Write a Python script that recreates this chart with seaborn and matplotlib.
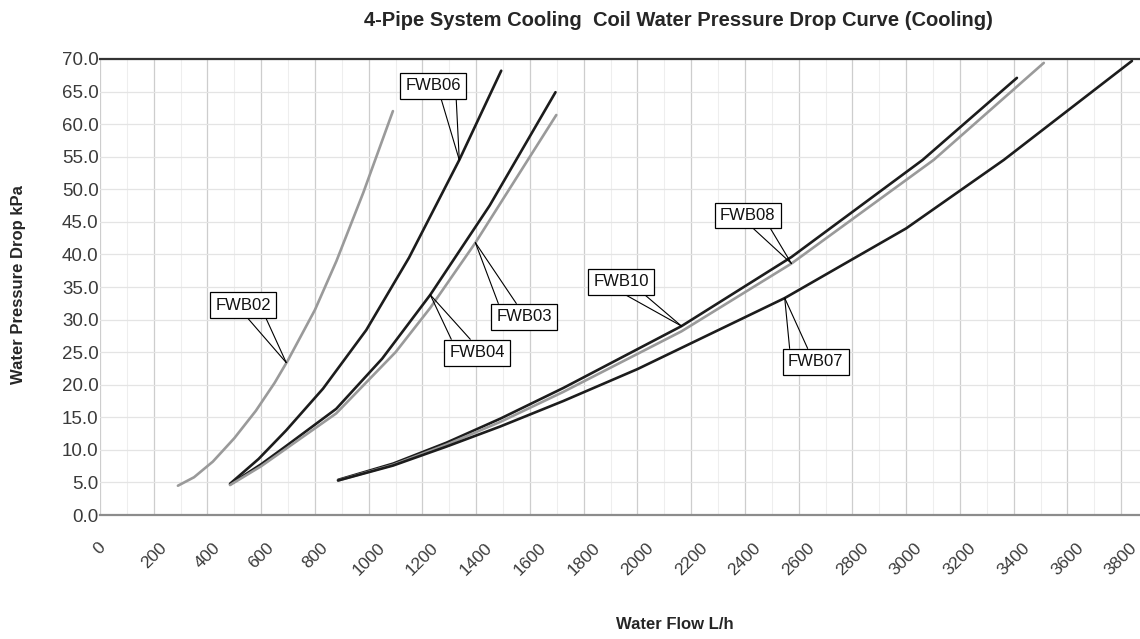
import seaborn as sns
import matplotlib.pyplot as plt
from matplotlib.ticker import MultipleLocator
import pandas as pd

# flow (L/h) and pressure drop (kPa)
fwb02_flow = [290, 350, 420, 500, 580, 650, 700, 800, 880, 980, 1090]
fwb02_drop = [4.5, 5.8, 8.2, 11.8, 16.0, 20.3, 23.8, 31.5, 39.0, 49.5, 62.0]

fwb06_flow = [484, 590, 693, 830, 991, 1150, 1337, 1493]
fwb06_drop = [4.8, 8.6, 13.0, 19.4, 28.4, 39.5, 54.5, 68.2]

fwb04_flow = [484, 600, 693, 879, 1050, 1229, 1450, 1695]
fwb04_drop = [4.7, 7.8, 10.6, 16.3, 24.0, 33.8, 47.5, 64.9]

fwb03_flow = [484, 600, 693, 879, 1100, 1229, 1397, 1698]
fwb03_drop = [4.6, 7.5, 10.2, 15.6, 25.0, 31.8, 41.8, 61.4]

fwb10_flow = [886, 1091, 1289, 1490, 1724, 2164, 2573, 3061, 3412]
fwb10_drop = [5.4, 7.9, 11.1, 14.8, 19.5, 29.0, 39.6, 54.5, 67.1]

fwb08_flow = [886, 1091, 1289, 1490, 1724, 2164, 2573, 3102, 3512]
fwb08_drop = [5.3, 7.7, 10.8, 14.3, 18.9, 28.2, 38.6, 54.5, 69.4]

fwb07_flow = [886, 1091, 1289, 1490, 1724, 2000, 2548, 3000, 3363, 3840]
fwb07_drop = [5.3, 7.6, 10.5, 13.6, 17.5, 22.4, 33.3, 44.0, 54.5, 69.7]

models = ["FWB02", "FWB06", "FWB04", "FWB03", "FWB10", "FWB08", "FWB07"]
flows = [fwb02_flow, fwb06_flow, fwb04_flow, fwb03_flow, fwb10_flow, fwb08_flow, fwb07_flow]
drops = [fwb02_drop, fwb06_drop, fwb04_drop, fwb03_drop, fwb10_drop, fwb08_drop, fwb07_drop]

x_ticks = list(range(0, 3801, 200))
y_ticks = [v * 5 for v in range(15)]

# callout: label position and the point on the curve it points to
label_pos = {"FWB02": (533, 32.2), "FWB06": (1240, 65.9), "FWB04": (1404, 24.9),
             "FWB03": (1579, 30.4), "FWB10": (1940, 35.8), "FWB08": (2410, 46.0),
             "FWB07": (2663, 23.5)}
label_pt = {"FWB02": (693, 23.4), "FWB06": (1337, 54.5), "FWB04": (1229, 33.8),
            "FWB03": (1397, 41.8), "FWB10": (2164, 29.0), "FWB08": (2573, 38.6),
            "FWB07": (2548, 33.3)}
# where the two leader lines leave the box: pixel offsets from box centre, and which edge
leader_px = {"FWB02": (5, 23, -1), "FWB06": (8, 23, -1), "FWB04": (-26, -7, 1),
             "FWB03": (-26, -8, 1), "FWB10": (5, 24, -1), "FWB08": (6, 23, -1),
             "FWB07": (-26, -8, 1)}

rows = []
for m, fl, dr in zip(models, flows, drops):
    for f, d in zip(fl, dr):
        rows.append({"model": m, "flow": f, "drop": d})
df = pd.DataFrame(rows)

dark = "#1c1c1c"
light = "#9a9a9a"
pal = {"FWB02": light, "FWB06": dark, "FWB04": dark, "FWB03": light,
       "FWB10": dark, "FWB08": light, "FWB07": dark}

sns.set_style("white")
plt.rcParams["font.family"] = ["Liberation Sans", "DejaVu Sans"]

fig = plt.figure(figsize=(11.4, 6.39), dpi=100)
ax = fig.add_axes([0.0877, 0.194, 0.9123, 0.7137])

sns.lineplot(data=df, x="flow", y="drop", hue="model", palette=pal, sort=False,
             estimator=None, legend=False, linewidth=1.9, ax=ax)

ax.set_xlim(0, 3870)
ax.set_ylim(0, 70)
ax.set_xticks(x_ticks)
ax.xaxis.set_minor_locator(MultipleLocator(100))
ax.set_yticks(y_ticks)
ax.set_yticklabels([f"{v:.1f}" for v in y_ticks])
ax.grid(True, which="major", axis="x", color="#cdcdcd", lw=0.9)
ax.grid(True, which="minor", axis="x", color="#eeeeee", lw=0.8)
ax.grid(True, which="major", axis="y", color="#e4e4e4", lw=0.9)
ax.set_axisbelow(True)

for s in ["left", "right"]:
    ax.spines[s].set_visible(False)
ax.spines["top"].set_color("#333333")
ax.spines["top"].set_linewidth(1.6)
ax.spines["bottom"].set_color("#8c8c8c")
ax.spines["bottom"].set_linewidth(1.6)

ax.tick_params(axis="x", which="major", direction="in", length=5, color="#888888",
               labelsize=12.5, labelcolor="#3a3a3a", pad=18)
ax.tick_params(axis="x", which="minor", length=0)
ax.tick_params(axis="y", length=0, labelsize=13.5, labelcolor="#3a3a3a", pad=1)
for lab in ax.get_xticklabels():
    lab.set_rotation(45)
    lab.set_ha("center")
    lab.set_va("top")

# pixel -> data scale for the leader lines
px_x = 3870 / (0.9123 * 1140)
px_y = 70 / (0.7137 * 639)
half_h = 13.5

for m in models:
    lx, ly = label_pos[m]
    o1, o2, side = leader_px[m]
    by = ly + side * half_h * px_y
    for o in (o1, o2):
        ax.annotate("", xy=label_pt[m], xytext=(lx + o * px_x, by),
                    arrowprops=dict(arrowstyle="-", color="black", lw=0.8,
                                    shrinkA=0, shrinkB=0))
    ax.text(lx, ly, m, ha="center", va="center", fontsize=12, color="#111111",
            bbox=dict(boxstyle="square,pad=0.32", fc="white", ec="black", lw=0.9),
            zorder=5)

ax.set_xlabel("")
ax.set_ylabel("")
fig.text(0.595, 0.968, "4-Pipe System Cooling  Coil Water Pressure Drop Curve (Cooling)",
         ha="center", va="center", fontsize=14.5, fontweight="bold")
fig.text(0.016, 0.554, "Water Pressure Drop kPa", rotation=90, ha="center", va="center",
         fontsize=12, fontweight="bold")
fig.text(0.592, 0.022, "Water Flow L/h", ha="center", va="center",
         fontsize=12, fontweight="bold")

fig.savefig("out.png", dpi=100)
